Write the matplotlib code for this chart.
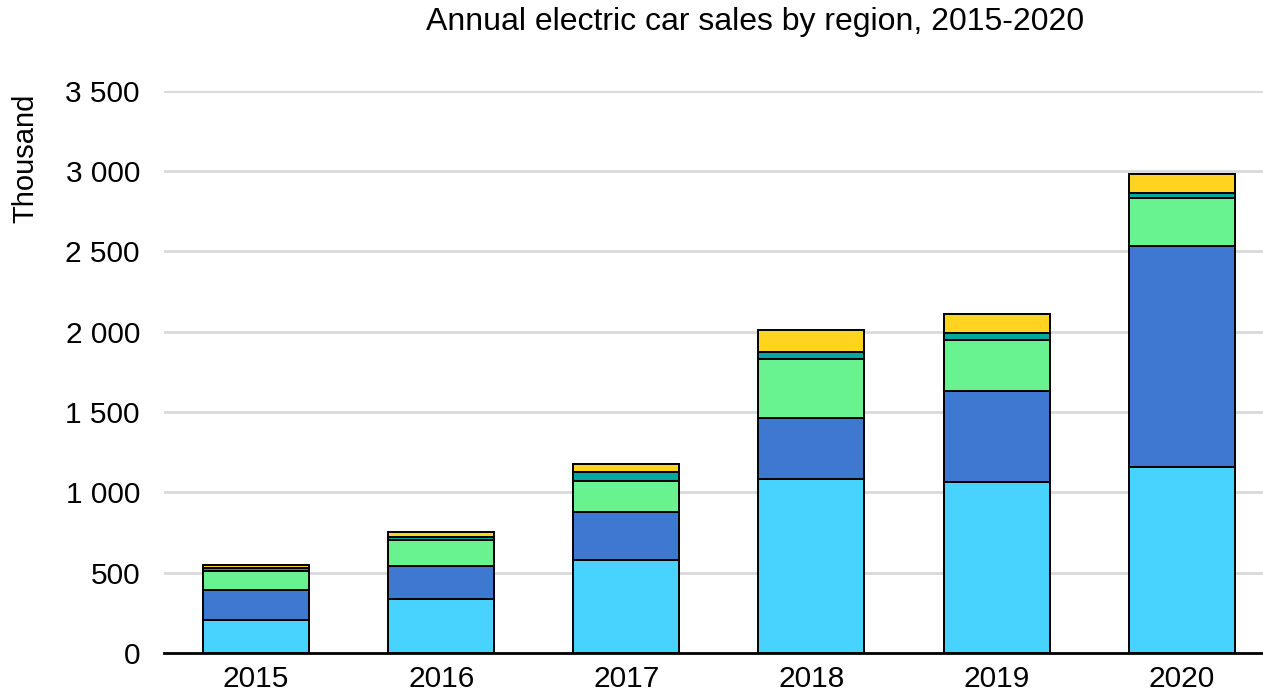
import matplotlib
matplotlib.use('Agg')
import matplotlib.pyplot as plt
import numpy as np

plt.rcParams['font.family'] = ['Liberation Sans', 'DejaVu Sans']

years = ['2015', '2016', '2017', '2018', '2019', '2020']
# thousand cars, stacked bottom to top
china = [207, 336, 579, 1083, 1062, 1156]
europe = [187, 208, 297, 382, 566, 1375]
usa = [114, 160, 197, 364, 322, 299]
japan = [20, 20, 56, 47, 44, 31]
other = [17, 28, 48, 135, 118, 118]

series = [china, europe, usa, japan, other]
colors = ['#48D3FE', '#3F78D1', '#69F290', '#00A99D', '#FFD31F']

fig = plt.figure(figsize=(12.63, 6.93), dpi=100)
ax = fig.add_axes([0.1295, 0.0577, 0.8706, 0.8113])

x = np.arange(len(years))
bottom = np.zeros(len(years))
for vals, c in zip(series, colors):
    ax.bar(x, vals, 0.573, bottom=bottom, color=c, edgecolor='black', linewidth=1.4, zorder=3)
    bottom += np.array(vals)

ax.set_xlim(-0.5, 5.44)
ax.set_ylim(0, 3500)
ax.set_yticks(np.arange(0, 3501, 500))
ax.set_yticklabels(['0' if v == 0 else f'{v:,}'.replace(',', ' ') for v in range(0, 3501, 500)])
ax.set_xticks(x)
ax.set_xticklabels(years)
ax.tick_params(axis='both', length=0, labelsize=21.5, colors='black')
ax.tick_params(axis='y', pad=17)
ax.tick_params(axis='x', pad=8.5)
ax.grid(axis='y', color='#d9d9d9', linewidth=2, zorder=0)
for s in ['top', 'right', 'left']:
    ax.spines[s].set_visible(False)
ax.spines['bottom'].set_linewidth(2)
ax.spines['bottom'].set_zorder(4)

fig.text(25 / 1263, 1 - 158 / 693, 'Thousand', rotation=90,
         ha='center', va='center', fontsize=21)
fig.text(755 / 1263, 1 - 22 / 693, 'Annual electric car sales by region, 2015-2020',
         ha='center', va='center', fontsize=23)

fig.savefig('out.png', dpi=100)
